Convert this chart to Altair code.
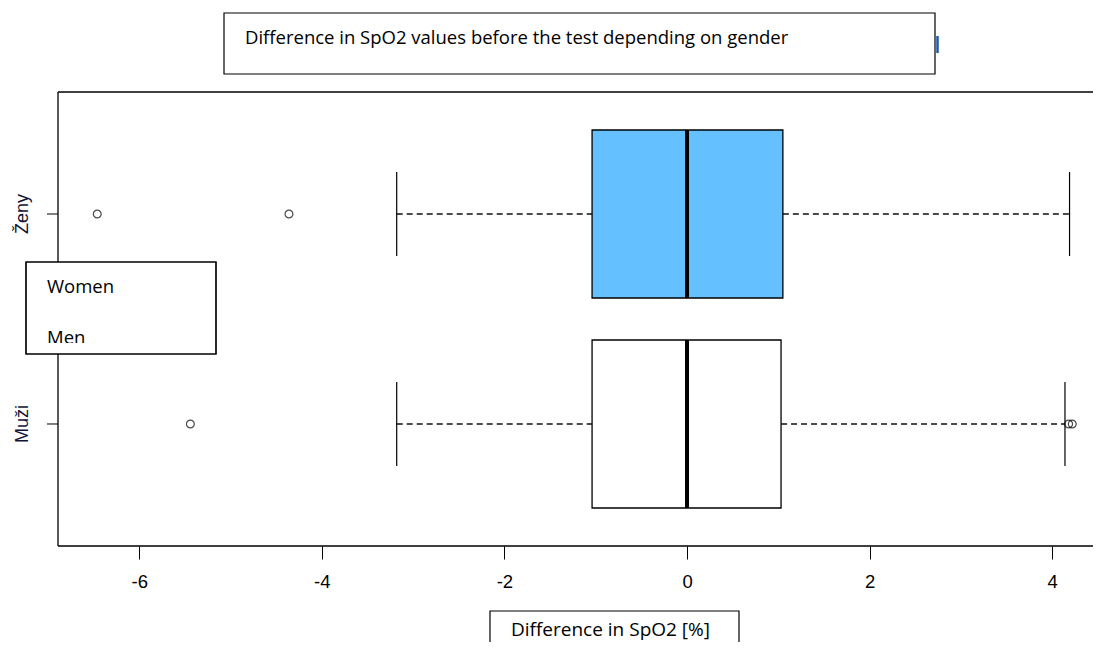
import altair as alt
import pandas as pd

# ---- data ----
groups = ["Ženy", "Muži"]
group_pos = [2, 1]
whisker_lo = [-3.18, -3.18]
q1 = [-1.04, -1.04]
median = [0.0, 0.0]
q3 = [1.05, 1.03]
whisker_hi = [4.19, 4.14]
fills = ["#64C0FF", "#FFFFFF"]

outlier_group = ["Ženy", "Ženy", "Muži", "Muži", "Muži"]
outlier_pos = [2, 2, 1, 1, 1]
outlier_val = [-6.46, -4.36, -5.44, 4.18, 4.22]

x_ticks = [-6, -4, -2, 0, 2, 4]

title_text = "Difference in SpO2 values before the test depending on gender"
xlabel_text = "Difference in SpO2 [%]"
legend_labels = ["Women", "Men"]

# ---- tables ----
box_df = pd.DataFrame({
    "group": groups, "pos": group_pos, "lo": whisker_lo, "q1": q1,
    "med": median, "q3": q3, "hi": whisker_hi, "fill": fills,
})
box_df["b0"] = box_df["pos"] - 0.4
box_df["b1"] = box_df["pos"] + 0.4
box_df["c0"] = box_df["pos"] - 0.2
box_df["c1"] = box_df["pos"] + 0.2
out_df = pd.DataFrame({"group": outlier_group, "pos": outlier_pos, "val": outlier_val})

W, H = 1035, 454
xscale = alt.Scale(domain=[-6.89, 4.447], nice=False, zero=False)
yscale = alt.Scale(domain=[0.419, 2.581], nice=False, zero=False)

base = alt.Chart(box_df)

xaxis = alt.Axis(values=x_ticks, title=None, grid=False, domain=False,
                 tickSize=13, tickColor="black", tickWidth=1,
                 labelFont="Liberation Sans", labelFontSize=18.5, labelColor="black",
                 labelPadding=13, labelExpr="'' + datum.value")

wh_lo = base.mark_rule(strokeDash=[6, 4], color="#111111", strokeWidth=1.3).encode(
    x=alt.X("lo:Q", scale=xscale, axis=xaxis), x2="q1:Q",
    y=alt.Y("pos:Q", scale=yscale, axis=None))
wh_hi = base.mark_rule(strokeDash=[6, 4], color="#111111", strokeWidth=1.3).encode(
    x=alt.X("q3:Q", scale=xscale), x2="hi:Q", y=alt.Y("pos:Q", scale=yscale))
cap_lo = base.mark_rule(color="black", strokeWidth=1.2).encode(
    x=alt.X("lo:Q", scale=xscale), y=alt.Y("c0:Q", scale=yscale), y2="c1:Q")
cap_hi = base.mark_rule(color="black", strokeWidth=1.2).encode(
    x=alt.X("hi:Q", scale=xscale), y=alt.Y("c0:Q", scale=yscale), y2="c1:Q")
boxes = base.mark_rect(stroke="black", strokeWidth=1.3).encode(
    x=alt.X("q1:Q", scale=xscale), x2="q3:Q",
    y=alt.Y("b0:Q", scale=yscale), y2="b1:Q",
    fill=alt.Fill("fill:N", scale=None))
med = base.mark_rule(color="black", strokeWidth=4).encode(
    x=alt.X("med:Q", scale=xscale), y=alt.Y("b0:Q", scale=yscale), y2="b1:Q")
outs = alt.Chart(out_df).mark_point(shape="circle", filled=False, size=62,
                                    color="black", strokeWidth=1.2).encode(
    x=alt.X("val:Q", scale=xscale), y=alt.Y("pos:Q", scale=yscale))

# y-axis ticks and labels
ytick = base.mark_rule(color="black", strokeWidth=1).encode(
    x=alt.value(-11), x2=alt.value(0), y=alt.Y("pos:Q", scale=yscale))
ylab = base.mark_text(angle=270, font="Liberation Sans", fontSize=18, color="#111133",
                      align="center", baseline="middle").encode(
    x=alt.value(-35), y=alt.Y("pos:Q", scale=yscale), text="group:N")

# frame (left, top, bottom)
one = pd.DataFrame({"k": [0]})
frame_l = alt.Chart(one).mark_rule(color="black", strokeWidth=1.3).encode(
    x=alt.value(0), y=alt.value(0), y2=alt.value(H))
frame_t = alt.Chart(one).mark_rule(color="black", strokeWidth=1.3).encode(
    x=alt.value(0), x2=alt.value(W + 10), y=alt.value(0))
frame_b = alt.Chart(one).mark_rule(color="black", strokeWidth=1.3).encode(
    x=alt.value(0), x2=alt.value(W + 10), y=alt.value(H))

# title box
tdf = pd.DataFrame({"t": [title_text]})
title_box = alt.Chart(tdf).mark_rect(fill="white", stroke="black", strokeWidth=1.2).encode(
    x=alt.value(166), x2=alt.value(877), y=alt.value(-79), y2=alt.value(-18))
title_txt = alt.Chart(tdf).mark_text(font="Open Sans", fontSize=18.5, align="left",
                                     baseline="middle", color="black").encode(
    x=alt.value(187), y=alt.value(-54), text="t:N")
frag = alt.Chart(one).mark_rule(color="#1F5AA6", strokeWidth=2.5).encode(
    x=alt.value(879.5), y=alt.value(-56), y2=alt.value(-39))

# legend box
ldf = pd.DataFrame({"t": legend_labels, "yy": [195, 246]})
leg_box = alt.Chart(one).mark_rect(fill="white", stroke="black", strokeWidth=1.2).encode(
    x=alt.value(-32), x2=alt.value(158), y=alt.value(170), y2=alt.value(262))
leg_txt = alt.Chart(ldf).mark_text(font="Open Sans", fontSize=18.5, align="left",
                                   baseline="middle", color="black").encode(
    x=alt.value(-11), y=alt.Y("yy:Q", scale=None), text="t:N")
leg_cover = alt.Chart(one).mark_rect(fill="white").encode(
    x=alt.value(-20), x2=alt.value(80), y=alt.value(251), y2=alt.value(261))
leg_border = alt.Chart(one).mark_rect(fill=None, stroke="black", strokeWidth=1.2).encode(
    x=alt.value(-32), x2=alt.value(158), y=alt.value(170), y2=alt.value(262))

# x label box
xdf = pd.DataFrame({"t": [xlabel_text]})
xl_box = alt.Chart(xdf).mark_rect(fill="white", stroke="black", strokeWidth=1.2).encode(
    x=alt.value(432), x2=alt.value(681), y=alt.value(519), y2=alt.value(580))
xl_txt = alt.Chart(xdf).mark_text(font="Open Sans", fontSize=19, align="left",
                                  baseline="middle", color="black").encode(
    x=alt.value(453), y=alt.value(538), text="t:N")

chart = alt.layer(
    wh_lo, wh_hi, cap_lo, cap_hi, boxes, med, outs,
    ytick, ylab, frame_l, frame_t, frame_b,
    title_box, frag, title_txt,
    leg_box, leg_txt, leg_cover, leg_border,
    xl_box, xl_txt,
).properties(
    width=W, height=H, background="white",
    padding={"left": 50, "top": 84, "right": 0, "bottom": 96},
    autosize=alt.AutoSizeParams(type="none"),
).configure_view(strokeWidth=0, strokeOpacity=0)

chart.save("out.html", embed_options={"renderer": "svg", "actions": False})
